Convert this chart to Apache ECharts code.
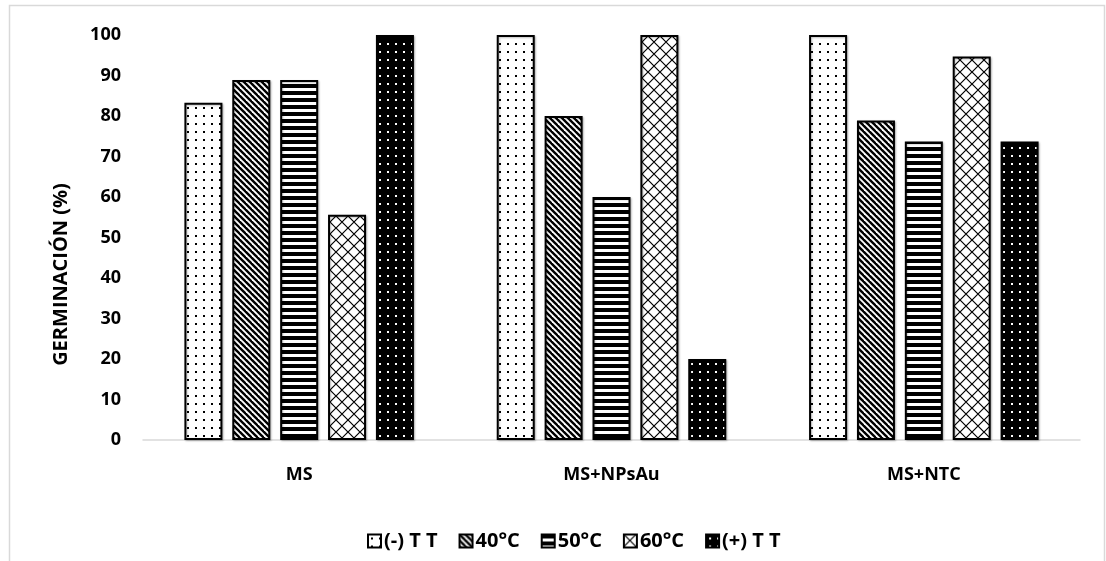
<!DOCTYPE html>
<html>
<head>
<meta charset="utf-8">
<script src="https://cdn.jsdelivr.net/npm/echarts@6/dist/echarts.min.js"></script>
<style>
  html, body { margin: 0; padding: 0; background: #fff; }
  #chart { width: 1106px; height: 561px; }
</style>
</head>
<body>
<div id="chart"></div>
<script>
// Treatments on the x axis
const categories = ['MS', 'MS+NPsAu', 'MS+NTC'];
// Germination (%) per temperature treatment
const seriesNames = ['(-) T T', '40°C', '50°C', '60°C', '(+) T T'];
const controlNeg = [83.3, 100, 100];
const temp40 = [88.9, 80, 78.9];
const temp50 = [88.9, 60, 73.7];
const temp60 = [55.6, 100, 94.7];
const controlPos = [100, 20, 73.7];
const yTicks = [0, 10, 20, 30, 40, 50, 60, 70, 80, 90, 100];

// Small tiles used as fill patterns
function tile(w, h, draw) {
  const c = document.createElement('canvas');
  c.width = w; c.height = h;
  const ctx = c.getContext('2d');
  draw(ctx, w, h);
  return { image: c, repeat: 'repeat' };
}
const patDots = tile(8, 8, (ctx, w, h) => {
  ctx.fillStyle = '#fff'; ctx.fillRect(0, 0, w, h);
  ctx.fillStyle = '#000'; ctx.fillRect(3, 3, 2, 2);
});
const patDiag = tile(6, 6, (ctx, w, h) => {
  ctx.fillStyle = '#fff'; ctx.fillRect(0, 0, w, h);
  ctx.strokeStyle = '#000'; ctx.lineWidth = 2.4;
  for (let k = -1; k <= 1; k++) {
    ctx.beginPath();
    ctx.moveTo(k * w - 1, -1);
    ctx.lineTo(k * w + w + 1, h + 1);
    ctx.stroke();
  }
});
const patHoriz = tile(8, 7, (ctx, w, h) => {
  ctx.fillStyle = '#fff'; ctx.fillRect(0, 0, w, h);
  ctx.fillStyle = '#000'; ctx.fillRect(0, 0, w, 4);
});
const patCross = tile(12, 12, (ctx, w, h) => {
  ctx.fillStyle = '#fff'; ctx.fillRect(0, 0, w, h);
  ctx.strokeStyle = '#000'; ctx.lineWidth = 1.2;
  ctx.beginPath();
  ctx.moveTo(0, 0); ctx.lineTo(w, h);
  ctx.moveTo(w, 0); ctx.lineTo(0, h);
  ctx.stroke();
});
const patDotsInv = tile(8, 8, (ctx, w, h) => {
  ctx.fillStyle = '#000'; ctx.fillRect(0, 0, w, h);
  ctx.fillStyle = '#fff'; ctx.fillRect(3, 3, 2, 2);
});

const seriesData = [controlNeg, temp40, temp50, temp60, controlPos];
const patterns = [patDots, patDiag, patHoriz, patCross, patDotsInv];

const FONT = '"Open Sans", "Liberation Sans", sans-serif';

const chart = echarts.init(document.getElementById('chart'), null, { renderer: 'canvas' });
chart.setOption({
  backgroundColor: '#fff',
  animation: false,
  graphic: [{
    type: 'rect',
    shape: { x: 9.5, y: 5.5, width: 1095, height: 620 },
    style: { fill: 'none', stroke: '#d9d9d9', lineWidth: 1.5 },
    silent: true
  }],
  grid: { left: 143, right: 26, top: 35, bottom: 121 },
  legend: {
    bottom: 5,
    left: 362,
    itemWidth: 13,
    itemHeight: 13,
    itemGap: 21,
    icon: 'rect',
    textStyle: { fontFamily: FONT, fontWeight: 'bold', fontSize: 20, color: '#000', padding: [0, 0, 0, -2] },
    data: seriesNames
  },
  xAxis: {
    type: 'category',
    data: categories,
    axisLine: { lineStyle: { color: '#d9d9d9', width: 1.5 } },
    axisTick: { show: false },
    axisLabel: { fontFamily: FONT, fontWeight: 'bold', fontSize: 18, color: '#000', margin: 26 }
  },
  yAxis: {
    type: 'value',
    min: 0, max: 100, interval: 10,
    name: 'GERMINACIÓN (%)',
    nameLocation: 'middle',
    nameGap: 72,
    nameTextStyle: { fontFamily: FONT, fontWeight: 'bold', fontSize: 20, color: '#000', padding: [0, 74, 0, 0] },
    axisLine: { show: false },
    axisTick: { show: false },
    splitLine: { show: false },
    axisLabel: {
      fontFamily: FONT, fontWeight: 'bold', fontSize: 18, color: '#000', margin: 22,
      formatter: v => (yTicks.includes(v) ? String(v) : '')
    }
  },
  series: seriesNames.map((name, i) => ({
    name,
    type: 'bar',
    data: seriesData[i],
    barWidth: 38,
    barGap: '26%',
    itemStyle: {
      color: patterns[i],
      borderColor: '#000',
      borderWidth: 2,
      shadowColor: 'rgba(0,0,0,0.25)',
      shadowBlur: 2,
      shadowOffsetX: 1,
      shadowOffsetY: 1
    }
  }))
});
</script>
</body>
</html>
